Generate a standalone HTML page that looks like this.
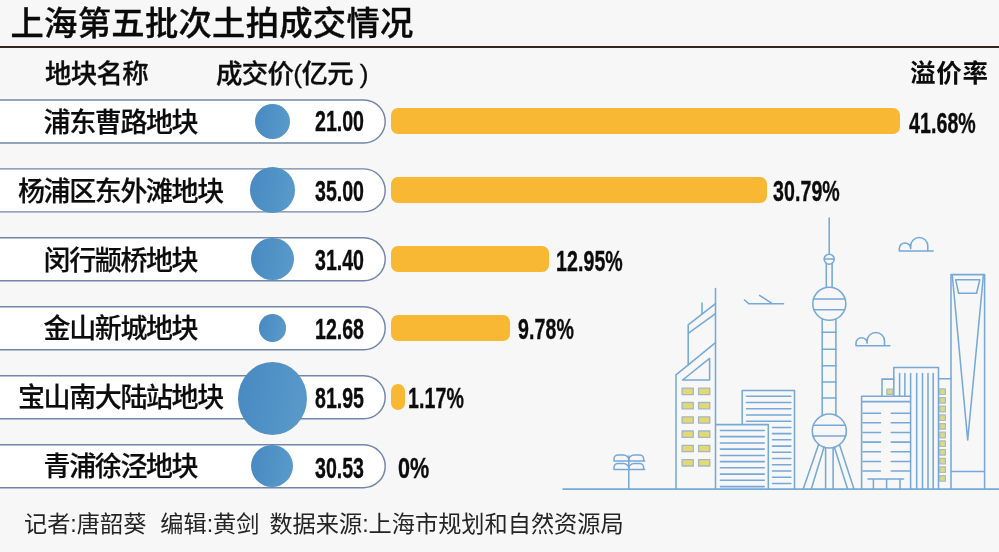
<!DOCTYPE html><html lang="zh"><head><meta charset="utf-8"><title>上海第五批次土拍成交情况</title><style>
html,body{margin:0;padding:0}
body{width:999px;height:552px;background:#f7f7f7;position:relative;overflow:hidden;font-family:"Liberation Sans","Noto Sans CJK SC",sans-serif;color:#0c0c0c}
.abs{position:absolute;white-space:nowrap;line-height:1}
.title{left:10.5px;top:7.3px;font-size:33.3px;font-weight:500;letter-spacing:.3px;color:#0a0a0a;-webkit-text-stroke:.35px #0a0a0a}
.rule{position:absolute;left:0;top:46px;width:999px;height:2px;background:#33271f}
.hdr{font-size:26.4px;font-weight:500;letter-spacing:-.6px;top:61.2px;-webkit-text-stroke:.3px #0c0c0c}
.hdr.b{font-size:25.5px;font-weight:700;letter-spacing:.8px;top:61px;-webkit-text-stroke:0}
.name{font-size:27px;font-weight:500;letter-spacing:-1.4px;width:300px;text-align:center;left:-29.6px;-webkit-text-stroke:.2px #0c0c0c}
.dot{position:absolute;border-radius:50%;background:linear-gradient(100deg,#4789c1,#5b9bcb)}
.num{font-size:28.8px;font-weight:700;letter-spacing:0;transform:scaleX(.68);transform-origin:0 50%;-webkit-text-stroke:.35px #0c0c0c}
.num.r{letter-spacing:.1px}
.bar{position:absolute;left:391px;height:26.7px;border-radius:7px;background:#f8b833}
.foot{left:24px;top:513.1px;font-size:23.2px;font-weight:400;color:#242424}
svg{position:absolute;left:0;top:0}
</style></head><body>
<div class="abs title">上海第五批次土拍成交情况</div>
<div class="rule"></div>
<div class="abs hdr" style="left:45px">地块名称</div>
<div class="abs hdr" style="left:216px">成交价(亿元 )</div>
<div class="abs hdr b" style="left:910px">溢价率</div>
<svg width="999" height="552" viewBox="0 0 999 552" fill="#fff" stroke="#7286aa" stroke-width="1.45">
<rect x="-40" y="99.95" width="425.2" height="43" rx="21.5"/>
<rect x="-40" y="168.89" width="425.2" height="43" rx="21.5"/>
<rect x="-40" y="237.83" width="425.2" height="43" rx="21.5"/>
<rect x="-40" y="306.77" width="425.2" height="43" rx="21.5"/>
<rect x="-40" y="375.71" width="425.2" height="43" rx="21.5"/>
<rect x="-40" y="444.65" width="425.2" height="43" rx="21.5"/>
</svg>
<div class="abs name" style="top:109.6px">浦东曹路地块</div>
<div class="dot" style="left:254.6px;top:103.5px;width:35.1px;height:35.1px"></div>
<div class="abs num" style="left:314.5px;top:107.1px">21.00</div>
<div class="bar" style="top:107.8px;width:509.0px"></div>
<div class="abs num r" style="left:909.0px;top:108.8px">41.68%</div>
<div class="abs name" style="top:178.5px">杨浦区东外滩地块</div>
<div class="dot" style="left:249.5px;top:167.4px;width:45.3px;height:45.3px"></div>
<div class="abs num" style="left:314.5px;top:176.7px">35.00</div>
<div class="bar" style="top:176.7px;width:376.0px"></div>
<div class="abs num r" style="left:773.0px;top:177.4px">30.79%</div>
<div class="abs name" style="top:247.5px">闵行颛桥地块</div>
<div class="dot" style="left:250.7px;top:237.5px;width:42.9px;height:42.9px"></div>
<div class="abs num" style="left:314.5px;top:245.8px">31.40</div>
<div class="bar" style="top:245.7px;width:158.1px"></div>
<div class="abs num r" style="left:555.8px;top:246.7px">12.95%</div>
<div class="abs name" style="top:316.4px">金山新城地块</div>
<div class="dot" style="left:258.6px;top:314.3px;width:27.3px;height:27.3px"></div>
<div class="abs num" style="left:314.5px;top:314.9px">12.68</div>
<div class="bar" style="top:314.6px;width:119.4px"></div>
<div class="abs num r" style="left:518.2px;top:315.4px">9.78%</div>
<div class="abs name" style="top:385.4px">宝山南大陆站地块</div>
<div class="dot" style="left:237.8px;top:361.7px;width:68.8px;height:73.0px"></div>
<div class="abs num" style="left:314.5px;top:383.7px">81.95</div>
<div class="bar" style="top:383.6px;width:14.3px"></div>
<div class="abs num r" style="left:408.0px;top:383.9px">1.17%</div>
<div class="abs name" style="top:454.3px">青浦徐泾地块</div>
<div class="dot" style="left:251.0px;top:444.6px;width:42.3px;height:42.3px"></div>
<div class="abs num" style="left:314.5px;top:453.7px">30.53</div>
<div class="abs num r" style="left:397.9px;top:453.9px;transform:scaleX(.75)">0%</div>
<svg width="999" height="552" viewBox="0 0 999 552" fill="none" stroke="#76a9d8" stroke-width="1.55" stroke-linecap="round" stroke-linejoin="round">
<!-- ground -->
<path d="M563 489.1H999"/>
<!-- lamp -->
<path d="M628.8 456V489.1"/>
<path d="M614 461H644.7M614 461v-2a4 4 0 0 1 4-4h5.5a5.3 5 0 0 1 5.3 5a5.3 5 0 0 1 5.3-5h5.5a4 4 0 0 1 4 4v2"/>
<path d="M614 469.5H644.7M614 469.5v-2a4 4 0 0 1 4-4h5.5a5.3 5 0 0 1 5.3 5a5.3 5 0 0 1 5.3-5h5.5a4 4 0 0 1 4 4v2"/>
<!-- plane -->
<path d="M744.5 300L749 303.8H783.5M759.5 295.3L772.6 303.8"/>
<!-- clouds -->
<path d="M933.2 251H899.3V248.7A5.7 5.7 0 0 1 910.7 248.7M910.7 248.7V246A8.55 8.55 0 0 1 927.8 246V251"/>
<path d="M889.9 345.7H856V343.2A5.55 5.55 0 0 1 867.1 343.2M867.1 343.2V341.1A8.7 8.7 0 0 1 884.5 341.1V345.7"/>
<!-- left tower -->
<path d="M715.5 288.4V489.1"/>
<path d="M702 303V313.7"/>
<path d="M676 489.1V374.8L715.5 342.6"/>
<path d="M688.2 365V324.8L715.5 303.6M688.2 333.4L715.5 313.6"/>
<path d="M682.6 380H709.6V358.4Z"/>
<g fill="#e4d870" stroke="#a3b7c6" stroke-width="1.3">
<rect x="682.1" y="388.2" width="11.2" height="6.4"/>
<rect x="698.6" y="388.2" width="11.2" height="6.4"/>
<rect x="682.1" y="402.5" width="11.2" height="6.4"/>
<rect x="698.6" y="402.5" width="11.2" height="6.4"/>
<rect x="682.1" y="416.8" width="11.2" height="6.4"/>
<rect x="698.6" y="416.8" width="11.2" height="6.4"/>
<rect x="682.1" y="431.0" width="11.2" height="6.4"/>
<rect x="698.6" y="431.0" width="11.2" height="6.4"/>
<rect x="682.1" y="445.3" width="11.2" height="6.4"/>
<rect x="698.6" y="445.3" width="11.2" height="6.4"/>
<rect x="682.1" y="459.6" width="11.2" height="6.4"/>
<rect x="698.6" y="459.6" width="11.2" height="6.4"/>
</g>
<!-- middle buildings -->
<path d="M742.2 424.6V390.5H794.5V489.1"/>
<path d="M746.5 396.3H790.9M746.5 402.5H790.9M746.5 408.7H790.9M746.5 415.0H790.9M746.5 421.2H790.9M772.5 427.4H790.9M772.5 433.6H790.9M772.5 439.8H790.9M772.5 446.1H790.9M772.5 452.3H790.9M772.5 458.5H790.9M772.5 464.7H790.9M772.5 470.9H790.9M772.5 477.2H790.9M772.5 483.4H790.9"/>
<path d="M716 424.6H768.3V489.1" />
<path d="M720.4 430.4H764.3M720.4 436.6H764.3M720.4 442.9H764.3M720.4 449.1H764.3M720.4 455.4H764.3M720.4 461.6H764.3M720.4 467.8H764.3M720.4 474.1H764.3M720.4 480.3H764.3M720.4 486.6H764.3"/>
<!-- pearl tower -->
<path d="M829.2 218V254.2"/>
<circle cx="829.2" cy="259.2" r="5"/>
<path d="M824.2 259H834.2"/>
<path d="M826.3 263.3V287.2M832.1 263.3V287.2"/>
<circle cx="829.3" cy="303.8" r="16.5"/>
<path d="M813.5 298.9H845.1M814 309.7H844.6"/>
<path d="M822.2 318.8V415.6M835.9 318.8V415.6"/>
<path d="M822.2 332.3H835.9M822.2 349.3H835.9M822.2 365.8H835.9M822.2 381.9H835.9M822.2 398H835.9"/>
<circle cx="829.3" cy="431" r="17"/>
<path d="M813.3 425.3H845.3M813 436H845.6"/>
<path d="M818.6 444.5L803.2 489.1M824 447.3L811.3 489.1M825.6 447.7V489.1M833.1 447.7V489.1M834.4 447.3L847.6 489.1M839.5 444.8L854 489.1"/>
<!-- right group -->
<path d="M882 396.3V379.1H893.8"/>
<path d="M893.8 396.3V367.5H938.5V489.1"/>
<path d="M899.6 373.5V396.3M904.9 373.5V396.3M916.7 373.5V489.1M922.5 373.5V489.1M928 373.5V489.1M933.2 373.5V489.1M910.6 373.5V396.3"/>
<path d="M861.6 489.1V396.3H910.6V489.1M861.6 401.6H910.6"/>
<path d="M863 413.2H880.5M891.2 413.2H910M863 422.8H880.5M891.2 422.8H910M863 432.5H880.5M891.2 432.5H910M863 442.1H880.5M891.2 442.1H910M863 451.7H880.5M891.2 451.7H910M863 461.4H880.5M891.2 461.4H910M863 471.0H880.5M891.2 471.0H910"/>
<path d="M868 479H903.6M873.4 479V489.1M886.6 479V489.1M900 479V489.1"/>
<path d="M938.5 378.8H951"/>
<g fill="#dbd986" stroke="#a9bac4" stroke-width="1.2">
<rect x="886.8" y="389.2" width="6" height="5.2"/>
<rect x="939.6" y="388.9" width="5.8" height="5.6"/>
<rect x="939.6" y="397.6" width="5.8" height="5.6"/>
<rect x="939.6" y="406.2" width="5.8" height="5.6"/>
<rect x="939.6" y="414.9" width="5.8" height="5.6"/>
<rect x="939.6" y="423.6" width="5.8" height="5.6"/>
<rect x="939.6" y="432.2" width="5.8" height="5.6"/>
<rect x="939.6" y="440.9" width="5.8" height="5.6"/>
<rect x="939.6" y="449.6" width="5.8" height="5.6"/>
<rect x="939.6" y="458.3" width="5.8" height="5.6"/>
<rect x="939.6" y="466.9" width="5.8" height="5.6"/>
<rect x="939.6" y="475.6" width="5.8" height="5.6"/>
</g>
<!-- SWFC -->
<path d="M951 489.1V274.6H984.6V489.1M951 471.4H984.6"/>
<path d="M952.3 275.5L967.7 440L983.4 275.5"/>
<path d="M955.7 279.8H979.8L976.6 293.3H958.6Z"/>
</svg>

<div class="abs foot">记者:唐韶葵&nbsp; <span style="margin-left:1px">编辑:黄剑</span> <span style="margin-left:3.5px">数据来源:上海市规划和自然资源局</span></div>
</body></html>
